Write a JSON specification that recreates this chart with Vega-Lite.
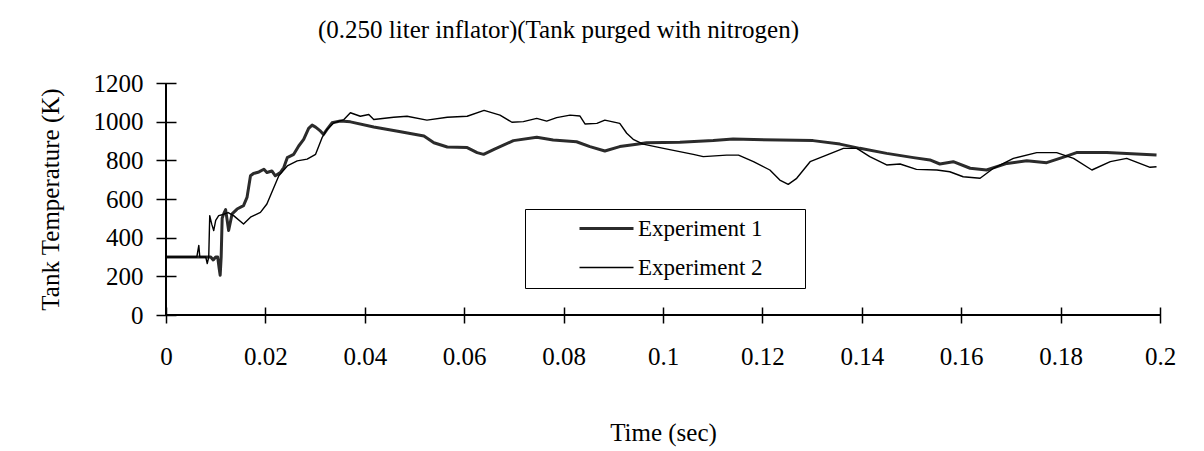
{
  "$schema": "https://vega.github.io/schema/vega-lite/v6.json",
  "width": 994,
  "height": 232,
  "autosize": {"type": "none"},
  "padding": {"left": 166, "top": 83, "right": 44, "bottom": 136},
  "background": "white",
  "config": {
    "view": {"stroke": null},
    "font": "Liberation Serif",
    "axis": {"labelFont": "Liberation Serif", "titleFont": "Liberation Serif", "labelColor": "black", "titleColor": "black", "tickColor": "black", "grid": false, "domain": false, "titleFontWeight": "normal", "labelOverlap": false},
    "axisY": {"labelOverlap": false, "titleColor": "black"},
    "axisQuantitative": {"labelOverlap": false}
  },
  "title": {"text": "(0.250 liter inflator)(Tank purged with nitrogen)", "anchor": "start", "frame": "group", "dx": 152, "offset": 28, "fontSize": 25, "font": "Liberation Serif", "fontWeight": "normal", "color": "black"},
  "data": {"values": [
    {"series":"Experiment 1","t":0,"T":300},{"series":"Experiment 1","t":0.0090,"T":300},{"series":"Experiment 1","t":0.0095,"T":285},{"series":"Experiment 1","t":0.0100,"T":300},{"series":"Experiment 1","t":0.0104,"T":300},{"series":"Experiment 1","t":0.0107,"T":240},{"series":"Experiment 1","t":0.0109,"T":206},{"series":"Experiment 1","t":0.0111,"T":300},{"series":"Experiment 1","t":0.0113,"T":500},{"series":"Experiment 1","t":0.0116,"T":523},{"series":"Experiment 1","t":0.0120,"T":545},{"series":"Experiment 1","t":0.0126,"T":437},{"series":"Experiment 1","t":0.0133,"T":523},{"series":"Experiment 1","t":0.0143,"T":548},{"series":"Experiment 1","t":0.0156,"T":566},{"series":"Experiment 1","t":0.0163,"T":608},{"series":"Experiment 1","t":0.0170,"T":720},{"series":"Experiment 1","t":0.0176,"T":732},{"series":"Experiment 1","t":0.0187,"T":740},{"series":"Experiment 1","t":0.0197,"T":754},{"series":"Experiment 1","t":0.0203,"T":737},{"series":"Experiment 1","t":0.0213,"T":745},{"series":"Experiment 1","t":0.0220,"T":720},{"series":"Experiment 1","t":0.0230,"T":737},{"series":"Experiment 1","t":0.0237,"T":763},{"series":"Experiment 1","t":0.0244,"T":814},{"series":"Experiment 1","t":0.0257,"T":831},{"series":"Experiment 1","t":0.0267,"T":874},{"series":"Experiment 1","t":0.0277,"T":908},{"series":"Experiment 1","t":0.0287,"T":965},{"series":"Experiment 1","t":0.0294,"T":982},{"series":"Experiment 1","t":0.0301,"T":972},{"series":"Experiment 1","t":0.0311,"T":951},{"series":"Experiment 1","t":0.0317,"T":934},{"series":"Experiment 1","t":0.0324,"T":960},{"series":"Experiment 1","t":0.0334,"T":994},{"series":"Experiment 1","t":0.0351,"T":1003},{"series":"Experiment 1","t":0.0371,"T":999},{"series":"Experiment 1","t":0.0418,"T":972},{"series":"Experiment 1","t":0.0472,"T":948},{"series":"Experiment 1","t":0.0519,"T":926},{"series":"Experiment 1","t":0.0539,"T":891},{"series":"Experiment 1","t":0.0566,"T":869},{"series":"Experiment 1","t":0.0606,"T":866},{"series":"Experiment 1","t":0.0626,"T":840},{"series":"Experiment 1","t":0.0639,"T":831},{"series":"Experiment 1","t":0.0660,"T":857},{"series":"Experiment 1","t":0.0699,"T":902},{"series":"Experiment 1","t":0.0746,"T":919},{"series":"Experiment 1","t":0.0779,"T":905},{"series":"Experiment 1","t":0.0826,"T":896},{"series":"Experiment 1","t":0.0853,"T":871},{"series":"Experiment 1","t":0.0883,"T":848},{"series":"Experiment 1","t":0.0913,"T":871},{"series":"Experiment 1","t":0.0947,"T":883},{"series":"Experiment 1","t":0.0967,"T":891},{"series":"Experiment 1","t":0.1034,"T":893},{"series":"Experiment 1","t":0.1101,"T":902},{"series":"Experiment 1","t":0.1141,"T":910},{"series":"Experiment 1","t":0.1235,"T":905},{"series":"Experiment 1","t":0.1302,"T":902},{"series":"Experiment 1","t":0.1356,"T":884},{"series":"Experiment 1","t":0.1396,"T":862},{"series":"Experiment 1","t":0.1450,"T":836},{"series":"Experiment 1","t":0.1504,"T":814},{"series":"Experiment 1","t":0.1537,"T":802},{"series":"Experiment 1","t":0.1557,"T":781},{"series":"Experiment 1","t":0.1584,"T":793},{"series":"Experiment 1","t":0.1618,"T":759},{"series":"Experiment 1","t":0.1651,"T":750},{"series":"Experiment 1","t":0.1692,"T":784},{"series":"Experiment 1","t":0.1732,"T":798},{"series":"Experiment 1","t":0.1772,"T":788},{"series":"Experiment 1","t":0.1812,"T":822},{"series":"Experiment 1","t":0.1832,"T":840},{"series":"Experiment 1","t":0.1893,"T":840},{"series":"Experiment 1","t":0.1993,"T":827},
    {"series":"Experiment 2","t":0,"T":300},{"series":"Experiment 2","t":0.0062,"T":300},{"series":"Experiment 2","t":0.0066,"T":360},{"series":"Experiment 2","t":0.0068,"T":300},{"series":"Experiment 2","t":0.0080,"T":300},{"series":"Experiment 2","t":0.0083,"T":266},{"series":"Experiment 2","t":0.0086,"T":300},{"series":"Experiment 2","t":0.0088,"T":514},{"series":"Experiment 2","t":0.0092,"T":470},{"series":"Experiment 2","t":0.0096,"T":437},{"series":"Experiment 2","t":0.0100,"T":490},{"series":"Experiment 2","t":0.0106,"T":514},{"series":"Experiment 2","t":0.0115,"T":520},{"series":"Experiment 2","t":0.0125,"T":530},{"series":"Experiment 2","t":0.0136,"T":514},{"series":"Experiment 2","t":0.0156,"T":471},{"series":"Experiment 2","t":0.0170,"T":506},{"series":"Experiment 2","t":0.0190,"T":531},{"series":"Experiment 2","t":0.0203,"T":574},{"series":"Experiment 2","t":0.0217,"T":660},{"series":"Experiment 2","t":0.0227,"T":720},{"series":"Experiment 2","t":0.0244,"T":771},{"series":"Experiment 2","t":0.0264,"T":797},{"series":"Experiment 2","t":0.0284,"T":806},{"series":"Experiment 2","t":0.0301,"T":831},{"series":"Experiment 2","t":0.0314,"T":917},{"series":"Experiment 2","t":0.0324,"T":960},{"series":"Experiment 2","t":0.0338,"T":994},{"series":"Experiment 2","t":0.0358,"T":1011},{"series":"Experiment 2","t":0.0371,"T":1046},{"series":"Experiment 2","t":0.0391,"T":1028},{"series":"Experiment 2","t":0.0408,"T":1037},{"series":"Experiment 2","t":0.0418,"T":1011},{"series":"Experiment 2","t":0.0458,"T":1023},{"series":"Experiment 2","t":0.0485,"T":1028},{"series":"Experiment 2","t":0.0525,"T":1008},{"series":"Experiment 2","t":0.0566,"T":1023},{"series":"Experiment 2","t":0.0606,"T":1028},{"series":"Experiment 2","t":0.0640,"T":1058},{"series":"Experiment 2","t":0.0672,"T":1034},{"series":"Experiment 2","t":0.0696,"T":997},{"series":"Experiment 2","t":0.0719,"T":1000},{"series":"Experiment 2","t":0.0746,"T":1017},{"series":"Experiment 2","t":0.0766,"T":1003},{"series":"Experiment 2","t":0.0786,"T":1021},{"series":"Experiment 2","t":0.0813,"T":1034},{"series":"Experiment 2","t":0.0833,"T":1029},{"series":"Experiment 2","t":0.0843,"T":988},{"series":"Experiment 2","t":0.0867,"T":991},{"series":"Experiment 2","t":0.0883,"T":1008},{"series":"Experiment 2","t":0.0913,"T":991},{"series":"Experiment 2","t":0.0927,"T":940},{"series":"Experiment 2","t":0.0940,"T":909},{"series":"Experiment 2","t":0.0960,"T":884},{"series":"Experiment 2","t":0.1001,"T":862},{"series":"Experiment 2","t":0.1061,"T":831},{"series":"Experiment 2","t":0.1081,"T":819},{"series":"Experiment 2","t":0.1128,"T":827},{"series":"Experiment 2","t":0.1152,"T":827},{"series":"Experiment 2","t":0.1182,"T":793},{"series":"Experiment 2","t":0.1215,"T":750},{"series":"Experiment 2","t":0.1235,"T":698},{"series":"Experiment 2","t":0.1252,"T":676},{"series":"Experiment 2","t":0.1269,"T":707},{"series":"Experiment 2","t":0.1296,"T":793},{"series":"Experiment 2","t":0.1329,"T":827},{"series":"Experiment 2","t":0.1363,"T":862},{"series":"Experiment 2","t":0.1390,"T":862},{"series":"Experiment 2","t":0.1416,"T":819},{"series":"Experiment 2","t":0.1450,"T":776},{"series":"Experiment 2","t":0.1477,"T":781},{"series":"Experiment 2","t":0.1510,"T":753},{"series":"Experiment 2","t":0.1551,"T":750},{"series":"Experiment 2","t":0.1577,"T":741},{"series":"Experiment 2","t":0.1604,"T":715},{"series":"Experiment 2","t":0.1638,"T":707},{"series":"Experiment 2","t":0.1665,"T":759},{"series":"Experiment 2","t":0.1705,"T":810},{"series":"Experiment 2","t":0.1752,"T":840},{"series":"Experiment 2","t":0.1792,"T":840},{"series":"Experiment 2","t":0.1826,"T":810},{"series":"Experiment 2","t":0.1863,"T":750},{"series":"Experiment 2","t":0.1900,"T":793},{"series":"Experiment 2","t":0.1933,"T":810},{"series":"Experiment 2","t":0.1980,"T":764},{"series":"Experiment 2","t":0.1993,"T":767}
  ]},
  "layer": [
    {
      "mark": {"type": "line", "interpolate": "linear", "strokeJoin": "round"},
      "encoding": {
        "x": {"field": "t", "type": "quantitative", "scale": {"domain": [0, 0.2], "nice": false},
          "axis": {"title": "Time (sec)", "values": [0, 0.02, 0.04, 0.06, 0.08, 0.1, 0.12, 0.14, 0.16, 0.18, 0.2], "format": "~g", "labelFontSize": 25, "titleFontSize": 25, "titleColor": "black", "offset": -8, "tickSize": 16, "tickWidth": 1.5, "labelPadding": 21, "titlePadding": 51, "labelFlush": false, "labelOverlap": false}},
        "y": {"field": "T", "type": "quantitative", "scale": {"domain": [0, 1200], "nice": false},
          "axis": {"title": "Tank Temperature (K)", "values": [0, 200, 400, 600, 800, 1000, 1200], "tickCount": 7, "format": "d", "labelFontSize": 25, "titleFontSize": 25, "titleColor": "black", "offset": -10, "tickSize": 20, "tickWidth": 1.5, "labelPadding": 13, "titlePadding": 30, "labelFlush": false, "labelOverlap": false, "labelSeparation": 0}},
        "stroke": {"field": "series", "type": "nominal", "scale": {"domain": ["Experiment 1", "Experiment 2"], "range": ["#2b2b2b", "black"]},
          "legend": {"title": " ", "titleOrient": "right", "titlePadding": 34, "titleFontSize": 2, "orient": "none", "legendX": 359, "legendY": 126, "strokeColor": "black", "padding": 8, "symbolType": "M-3,0H3", "symbolSize": 324, "symbolOffset": 62, "labelFontSize": 23, "labelFont": "Liberation Serif", "labelColor": "black", "labelOffset": 20, "rowPadding": 15, "fillColor": "white"}},
        "strokeWidth": {"field": "series", "type": "nominal", "scale": {"domain": ["Experiment 1", "Experiment 2"], "range": [3, 1.4]},
          "legend": {"title": " ", "titleOrient": "right", "titlePadding": 34, "titleFontSize": 2, "orient": "none", "legendX": 359, "legendY": 126, "strokeColor": "black", "padding": 8, "symbolType": "M-3,0H3", "symbolSize": 324, "symbolOffset": 62, "labelFontSize": 23, "labelFont": "Liberation Serif", "labelColor": "black", "labelOffset": 20, "rowPadding": 15, "fillColor": "white"}}
      }
    },
    {
      "mark": {"type": "rule", "color": "black", "strokeWidth": 1.5},
      "encoding": {"x": {"datum": 0, "type": "quantitative"}}
    },
    {
      "mark": {"type": "rule", "color": "black", "strokeWidth": 1.5},
      "encoding": {"y": {"datum": 0, "type": "quantitative"}}
    }
  ]
}
